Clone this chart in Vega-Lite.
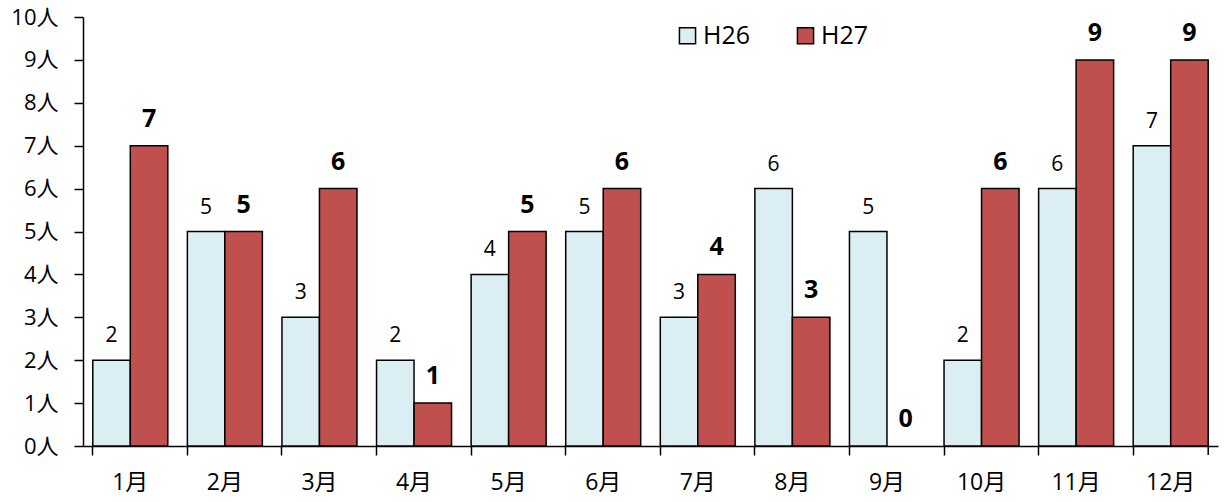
{
  "$schema": "https://vega.github.io/schema/vega-lite/v6.json",
  "width": 1135,
  "height": 429,
  "autosize": {"type": "none"},
  "padding": {"left": 83, "top": 17, "right": 6, "bottom": 56},
  "background": "white",
  "config": {
    "view": {"stroke": null},
    "font": "Noto Sans CJK JP"
  },
  "datasets": {
    "main": [
      {"month": "1月", "year": "H26", "count": 2},
      {"month": "1月", "year": "H27", "count": 7},
      {"month": "2月", "year": "H26", "count": 5},
      {"month": "2月", "year": "H27", "count": 5},
      {"month": "3月", "year": "H26", "count": 3},
      {"month": "3月", "year": "H27", "count": 6},
      {"month": "4月", "year": "H26", "count": 2},
      {"month": "4月", "year": "H27", "count": 1},
      {"month": "5月", "year": "H26", "count": 4},
      {"month": "5月", "year": "H27", "count": 5},
      {"month": "6月", "year": "H26", "count": 5},
      {"month": "6月", "year": "H27", "count": 6},
      {"month": "7月", "year": "H26", "count": 3},
      {"month": "7月", "year": "H27", "count": 4},
      {"month": "8月", "year": "H26", "count": 6},
      {"month": "8月", "year": "H27", "count": 3},
      {"month": "9月", "year": "H26", "count": 5},
      {"month": "9月", "year": "H27", "count": 0},
      {"month": "10月", "year": "H26", "count": 2},
      {"month": "10月", "year": "H27", "count": 6},
      {"month": "11月", "year": "H26", "count": 6},
      {"month": "11月", "year": "H27", "count": 9},
      {"month": "12月", "year": "H26", "count": 7},
      {"month": "12月", "year": "H27", "count": 9}
    ],
    "endtick": [
      {"month": "12月", "top": 0, "bottom": -0.21}
    ]
  },
  "data": {"name": "main"},
  "encoding": {
    "x": {
      "field": "month",
      "type": "nominal",
      "sort": null,
      "scale": {"paddingInner": 0.207, "paddingOuter": 0.1035},
      "axis": {
        "title": null,
        "labelAngle": 0,
        "bandPosition": 0,
        "labelFontSize": 23,
        "labelColor": "black",
        "labelPadding": 16,
        "tickColor": "black",
        "tickSize": 9,
        "tickWidth": 1.5,
        "domainColor": "black",
        "domainWidth": 1.5,
        "labelFont": "Open Sans, Noto Sans CJK JP"
      }
    },
    "y": {
      "field": "count",
      "type": "quantitative",
      "scale": {"domain": [0, 10]},
      "axis": {
        "title": null,
        "values": [0, 1, 2, 3, 4, 5, 6, 7, 8, 9, 10],
        "labelExpr": "datum.value + '人'",
        "grid": false,
        "labelFontSize": 22,
        "labelColor": "black",
        "labelPadding": 16,
        "tickColor": "black",
        "tickSize": 9,
        "tickWidth": 1.5,
        "domainColor": "black",
        "domainWidth": 1.5,
        "labelFont": "Open Sans, Noto Sans CJK JP"
      }
    }
  },
  "layer": [
    {
      "transform": [{"filter": "datum.count > 0"}],
      "mark": {"type": "bar", "stroke": "black", "strokeWidth": 1.5},
      "encoding": {
        "xOffset": {"field": "year", "type": "nominal", "scale": {"paddingInner": 0}},
        "color": {
          "field": "year",
          "type": "nominal",
          "scale": {"domain": ["H26", "H27"], "range": ["#DAEEF3", "#C0504D"]},
          "legend": {
            "title": null,
            "orient": "none",
            "direction": "horizontal",
            "legendX": 592,
            "legendY": 6,
            "symbolType": "square",
            "symbolSize": 260,
            "symbolStrokeColor": "black",
            "symbolStrokeWidth": 1.5,
            "labelFontSize": 25,
            "labelFont": "Open Sans",
            "labelColor": "black",
            "columnPadding": 42,
            "labelOffset": 3
          }
        }
      }
    },
    {
      "transform": [{"filter": "datum.year == 'H26'"}],
      "mark": {"type": "text", "baseline": "alphabetic", "dy": -18, "fontSize": 21, "font": "Open Sans", "color": "black"},
      "encoding": {
        "xOffset": {"field": "year", "type": "nominal"},
        "text": {"field": "count", "type": "quantitative"}
      }
    },
    {
      "transform": [{"filter": "datum.year == 'H27'"}],
      "mark": {"type": "text", "baseline": "alphabetic", "dy": -19, "fontSize": 25, "fontWeight": "bold", "font": "Open Sans", "color": "black"},
      "encoding": {
        "xOffset": {"field": "year", "type": "nominal"},
        "text": {"field": "count", "type": "quantitative"}
      }
    },
    {
      "data": {"name": "endtick"},
      "mark": {"type": "rule", "color": "black", "strokeWidth": 1.5},
      "encoding": {
        "x": {"field": "month", "type": "nominal", "sort": null, "bandPosition": 1},
        "y": {"field": "top", "type": "quantitative"},
        "y2": {"field": "bottom"}
      }
    }
  ]
}
